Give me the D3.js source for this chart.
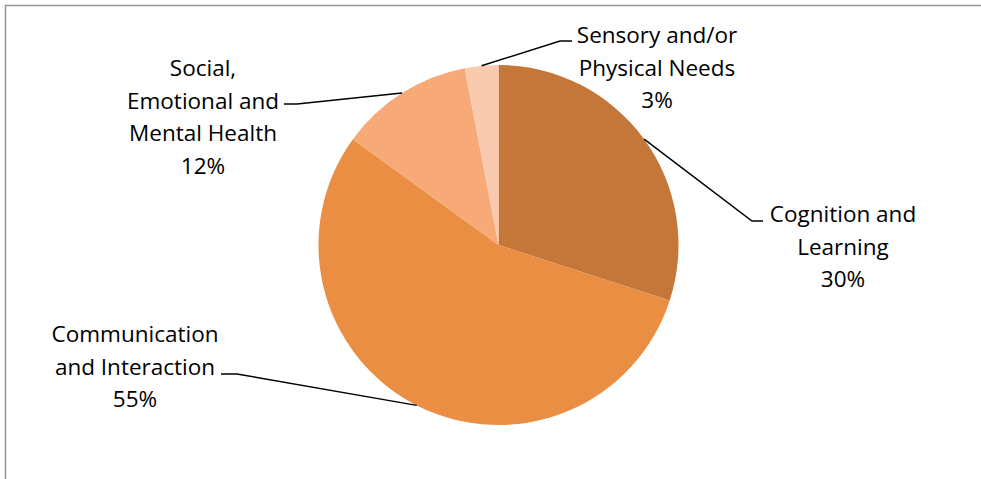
<!DOCTYPE html>
<html>
<head>
<meta charset="utf-8">
<script src="https://cdn.jsdelivr.net/npm/d3@7"></script>
<style>
    body { margin: 0; background: #fff; }
    svg { display: block; }
    text { font-family: "Open Sans", Lato, sans-serif; font-size: 22.5px; fill: #000; }
</style>
</head>
<body>
<svg width="981" height="479"></svg>
<script>
    var categories = [
        "Cognition and Learning",
        "Communication and Interaction",
        "Social, Emotional and Mental Health",
        "Sensory and/or Physical Needs"
    ];
    var values = [30, 55, 12, 3];
    var colors = ["#c5773a", "#e98e42", "#f7aa78", "#f9cab0"];
    // label lines as they wrap in the picture
    var labelLines = [
        ["Cognition and", "Learning"],
        ["Communication", "and Interaction"],
        ["Social,", "Emotional and", "Mental Health"],
        ["Sensory and/or", "Physical Needs"]
    ];

    // layout: label centre, first baseline, leader elbow
    var labelPos = [
        { x: 843, y: 222, ex: 752, ey: 221, hx: 763 },
        { x: 135, y: 342, ex: 237, ey: 374, hx: 221 },
        { x: 203, y: 76, ex: 297, ey: 104, hx: 284 },
        { x: 657, y: 43, ex: 560, ey: 41, hx: 572 }
    ];

    var width = 981, height = 479;
    var cx = 498.5, cy = 245, radius = 180;
    var lineH = 32.5;

    var svg = d3.select("svg");

    // outer frame (continues past the right and bottom edge)
    svg.append("path")
        .attr("d", "M5.5,490V5.5H990")
        .attr("fill", "none")
        .attr("stroke", "#969696")
        .attr("stroke-width", 1.5);

    var data = categories.map(function(c, i) {
        return { name: c, value: values[i], color: colors[i], lines: labelLines[i], pos: labelPos[i] };
    });

    var pie = d3.pie().sort(null).value(function(d) { return d.value; });
    var arc = d3.arc().innerRadius(0).outerRadius(radius);
    var arcs = pie(data);

    var g = svg.append("g").attr("transform", "translate(" + cx + "," + cy + ")");

    g.selectAll("path.slice")
        .data(arcs)
        .enter()
        .append("path")
        .attr("class", "slice")
        .attr("d", arc)
        .attr("fill", function(d) { return d.data.color; });

    var total = d3.sum(values);

    // leader lines: from the slice's outer edge midpoint to the elbow, then a short flat stub
    svg.selectAll("path.leader")
        .data(arcs)
        .enter()
        .append("path")
        .attr("class", "leader")
        .attr("fill", "none")
        .attr("stroke", "#000")
        .attr("stroke-width", 1.5)
        .attr("d", function(d) {
            var a = (d.startAngle + d.endAngle) / 2;
            var x0 = cx + radius * Math.sin(a);
            var y0 = cy - radius * Math.cos(a);
            var p = d.data.pos;
            return "M" + x0 + "," + y0 + "L" + p.ex + "," + p.ey + "L" + p.hx + "," + p.ey;
        });

    var labels = svg.selectAll("text.label")
        .data(arcs)
        .enter()
        .append("text")
        .attr("class", "label")
        .attr("text-anchor", "middle");

    labels.each(function(d) {
        var t = d3.select(this);
        var p = d.data.pos;
        var lines = d.data.lines.concat([Math.round(d.data.value / total * 100) + "%"]);
        lines.forEach(function(l, i) {
            t.append("tspan")
                .attr("x", p.x)
                .attr("y", p.y + i * lineH)
                .text(l);
        });
    });
</script>
</body>
</html>
